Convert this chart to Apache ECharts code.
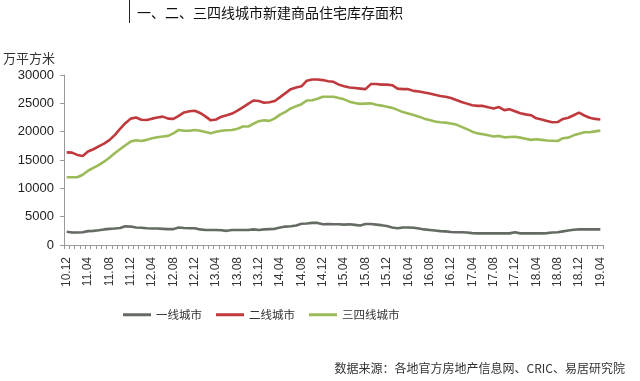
<!DOCTYPE html>
<html>
<head>
<meta charset="utf-8">
<script src="https://cdn.jsdelivr.net/npm/echarts@6/dist/echarts.min.js"></script>
<style>
html,body{margin:0;padding:0;background:#fff;}
#c{width:640px;height:381px;}
</style>
</head>
<body>
<div id="c"></div>
<script>
var categories = [
'10.12',
'11.01','11.02','11.03','11.04','11.05','11.06','11.07','11.08','11.09','11.10','11.11','11.12',
'12.01','12.02','12.03','12.04','12.05','12.06','12.07','12.08','12.09','12.10','12.11','12.12',
'13.01','13.02','13.03','13.04','13.05','13.06','13.07','13.08','13.09','13.10','13.11','13.12',
'14.01','14.02','14.03','14.04','14.05','14.06','14.07','14.08','14.09','14.10','14.11','14.12',
'15.01','15.02','15.03','15.04','15.05','15.06','15.07','15.08','15.09','15.10','15.11','15.12',
'16.01','16.02','16.03','16.04','16.05','16.06','16.07','16.08','16.09','16.10','16.11','16.12',
'17.01','17.02','17.03','17.04','17.05','17.06','17.07','17.08','17.09','17.10','17.11','17.12',
'18.01','18.02','18.03','18.04','18.05','18.06','18.07','18.08','18.09','18.10','18.11','18.12',
'19.01','19.02','19.03','19.04'
];

var tier1 = [
2350,2200,2200,2250,2450,2500,2600,2750,2850,2900,3000,3300,3250,3100,3050,2950,2900,2900,2850,2800,
2800,3100,3000,2950,2950,2750,2650,2650,2650,2600,2500,2650,2650,2650,2650,2750,2650,2750,2800,2850,
3100,3250,3300,3450,3750,3800,3900,3900,3650,3700,3650,3650,3600,3650,3550,3450,3700,3700,3600,3500,
3350,3100,2950,3100,3100,3050,2900,2750,2650,2550,2450,2400,2300,2250,2250,2200,2100,2050,2050,2050,
2050,2050,2050,2050,2250,2050,2050,2050,2050,2050,2100,2200,2250,2400,2550,2700,2750,2750,2750,2750,
2750
];

var tier2 = [
16350,16300,15900,15700,16500,16900,17400,17900,18500,19400,20500,21500,22300,22500,22100,22050,22300,22500,22650,22300,
22250,22800,23400,23600,23700,23300,22700,22000,22150,22650,22900,23200,23700,24300,24900,25500,25400,25100,25200,25400,
26100,26800,27500,27800,28000,29000,29200,29200,29100,28900,28800,28300,28000,27800,27700,27600,27500,28400,28400,28300,
28300,28200,27600,27500,27500,27200,27100,26900,26750,26500,26300,26150,25950,25600,25250,24950,24650,24550,24550,24300,
24100,24350,23800,23950,23600,23250,23050,22900,22350,22150,21900,21650,21700,22250,22450,22900,23350,22850,22450,22250,
22150
];

var tier34 = [
11950,11950,11950,12400,13100,13600,14100,14700,15400,16200,16900,17600,18250,18500,18350,18550,18850,19000,19150,19250,
19700,20300,20150,20150,20300,20150,19950,19700,20000,20150,20250,20300,20500,20900,20900,21400,21850,22000,21900,22350,
23000,23500,24100,24500,24850,25500,25550,25800,26150,26150,26150,25950,25700,25300,25050,24900,24950,25000,24750,24600,
24400,24200,23850,23450,23200,22950,22650,22300,22050,21800,21650,21600,21450,21250,20850,20450,20000,19700,19550,19350,
19150,19250,19000,19050,19100,18950,18750,18550,18650,18550,18450,18400,18350,18850,18950,19350,19650,19900,19900,20050,
20180
];

var seriesNames = ['一线城市','二线城市','三四线城市'];
var yTicks = [0,5000,10000,15000,20000,25000,30000];

var chart = echarts.init(document.getElementById('c'), null, {renderer:'canvas'});
var font = '"Microsoft YaHei","Noto Sans CJK SC",sans-serif';
function mk(name, data, color){
  return {name:name, type:'line', data:data, symbol:'none', smooth:false,
    lineStyle:{color:color, width:2.6}, itemStyle:{color:color}};
}
chart.setOption({
  animation:false,
  backgroundColor:'#fff',
  title:{
    text:'一、二、三四线城市新建商品住宅库存面积',
    left:132, top:1,
    textStyle:{fontFamily:'"Noto Sans CJK SC",serif', fontSize:14, fontWeight:'normal', color:'#111'}
  },
  graphic:[
    {type:'line', shape:{x1:129.5,y1:0,x2:129.5,y2:23}, style:{stroke:'#222', lineWidth:1}},
    {type:'text', right:15, top:362, style:{text:'数据来源：各地官方房地产信息网、CRIC、易居研究院', fill:'#333', font:'12px "Noto Sans CJK SC",sans-serif'}}
  ],
  legend:{
    data:seriesNames, left:118, top:304, itemWidth:28, itemHeight:3, itemGap:14,
    icon:'rect',
    textStyle:{fontFamily:font, fontSize:11.5, color:'#333'}
  },
  grid:{left:61, right:37, top:75, bottom:136, containLabel:false},
  xAxis:{
    type:'category', data:categories, boundaryGap:true,
    axisLine:{lineStyle:{color:'#999', width:1}},
    axisTick:{show:true, interval:0, length:4, lineStyle:{color:'#999'}},
    axisLabel:{interval:3, rotate:90, fontSize:12, color:'#333', fontFamily:'"Liberation Sans",Arial,sans-serif', margin:12}
  },
  yAxis:{
    type:'value', min:yTicks[0], max:yTicks[yTicks.length-1], interval:5000,
    name:'万平方米', nameLocation:'end', nameGap:10,
    nameTextStyle:{fontFamily:font, fontSize:13, color:'#333', align:'left', padding:[0,0,0,-61]},
    axisLine:{show:true, lineStyle:{color:'#999'}},
    axisTick:{show:true, length:4, lineStyle:{color:'#999'}},
    splitLine:{show:false},
    axisLabel:{fontSize:13, color:'#222', fontFamily:'"Liberation Sans",Arial,sans-serif', margin:10,
      formatter:function(v){return String(v);}}
  },
  series:[
    mk(seriesNames[0], tier1, '#646b63'),
    mk(seriesNames[1], tier2, '#c0393d'),
    mk(seriesNames[2], tier34, '#9bbb59')
  ]
});
</script>
</body>
</html>
